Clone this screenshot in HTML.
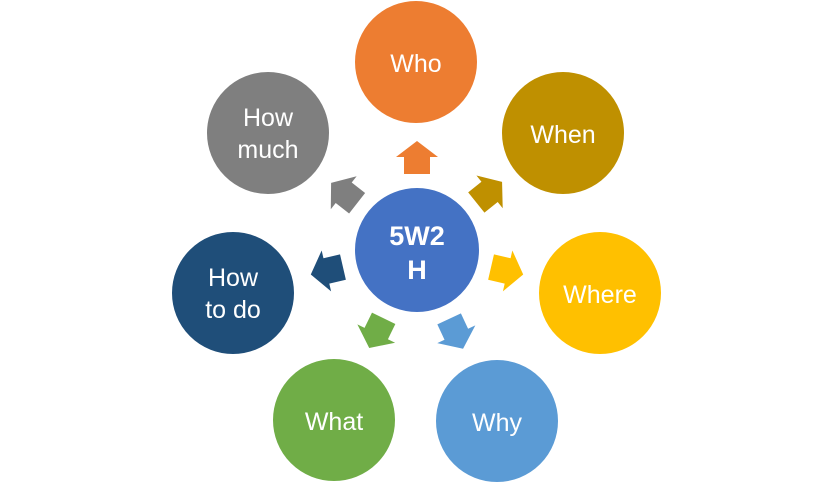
<!DOCTYPE html>
<html><head><meta charset="utf-8"><style>
html,body{margin:0;padding:0;background:#fff;}
svg{display:block;}
text{font-family:"Liberation Sans","DejaVu Sans",sans-serif;fill:#fff;text-anchor:middle;}
</style></head><body>
<svg width="831" height="485" viewBox="0 0 831 485" xmlns="http://www.w3.org/2000/svg">
<defs>
<polygon id="arr" points="-17,-13 0,-13 0,-21 16,0 0,21 0,13 -17,13"/>
</defs>
<g transform="translate(417,250)">
<use href="#arr" fill="#ED7D31" transform="rotate(-90) translate(93,0)"/>
<use href="#arr" fill="#BF9000" transform="rotate(-38.7) translate(93,0)"/>
<use href="#arr" fill="#FFC000" transform="rotate(13) translate(93,0)"/>
<use href="#arr" fill="#5B9BD5" transform="rotate(65) translate(93,0)"/>
<use href="#arr" fill="#70AD47" transform="rotate(116) translate(93,0)"/>
<use href="#arr" fill="#1F4E79" transform="rotate(167) translate(93,0)"/>
<use href="#arr" fill="#7F7F7F" transform="rotate(218) translate(93,0)"/>
</g>
<g stroke="#fff" stroke-width="2">
<circle cx="417" cy="250" r="63" fill="#4472C4"/>
<circle cx="416" cy="62" r="62" fill="#ED7D31"/>
<circle cx="563" cy="133" r="62" fill="#BF9000"/>
<circle cx="600" cy="293" r="62" fill="#FFC000"/>
<circle cx="497" cy="421" r="62" fill="#5B9BD5"/>
<circle cx="334" cy="420" r="62" fill="#70AD47"/>
<circle cx="233" cy="293" r="62" fill="#1F4E79"/>
<circle cx="268" cy="133" r="62" fill="#7F7F7F"/>
</g>
<text x="417" y="245" font-size="27" font-weight="bold">5W2</text>
<text x="417" y="279" font-size="27" font-weight="bold">H</text>
<text x="416" y="72" font-size="25">Who</text>
<text x="563" y="143" font-size="25">When</text>
<text x="600" y="303" font-size="25">Where</text>
<text x="497" y="431" font-size="25">Why</text>
<text x="334" y="430" font-size="25">What</text>
<text x="233" y="286" font-size="25">How</text>
<text x="233" y="318" font-size="25">to do</text>
<text x="268" y="126" font-size="25">How</text>
<text x="268" y="158" font-size="25">much</text>
</svg>
</body></html>
